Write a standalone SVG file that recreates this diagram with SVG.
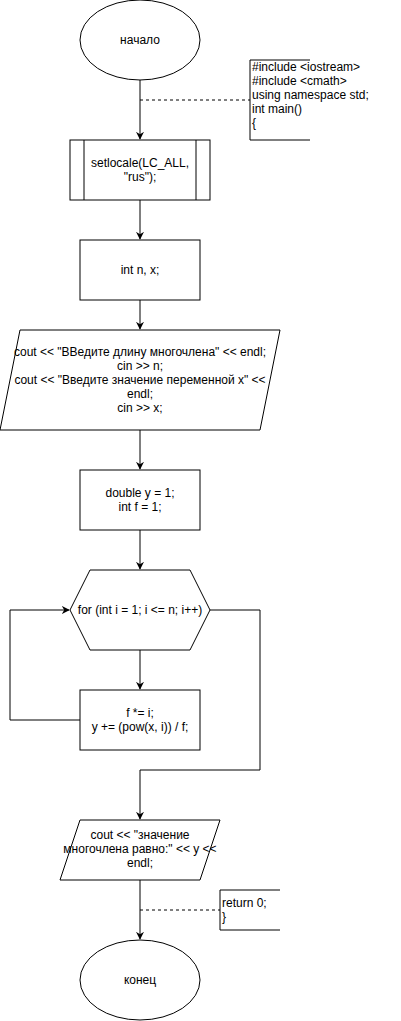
<svg xmlns="http://www.w3.org/2000/svg" width="401" height="1021" viewBox="0 0 401 1021">
<defs>
<style>
.s{fill:#fff;stroke:#000;stroke-width:1}
.e{fill:none;stroke:#000;stroke-width:1}
.d{fill:none;stroke:#000;stroke-width:1;stroke-dasharray:3 3}
text{font-family:"Liberation Sans",Arial,sans-serif;font-size:12px;fill:#000}
.c{text-anchor:middle}
</style>
<marker id="a" viewBox="0 0 10 10" refX="9" refY="5" markerWidth="8" markerHeight="8" markerUnits="userSpaceOnUse" orient="auto">
<path d="M0,0 L10,5 L0,10 L3,5 Z" fill="#000"/>
</marker>
</defs>
<g id="connectors">
<path class="e" d="M140,80 V139" marker-end="url(#a)"/>
<path class="e" d="M140,200 V239" marker-end="url(#a)"/>
<path class="e" d="M140,300 V329" marker-end="url(#a)"/>
<path class="e" d="M140,430 V469" marker-end="url(#a)"/>
<path class="e" d="M140,530 V569" marker-end="url(#a)"/>
<path class="e" d="M140,650 V689" marker-end="url(#a)"/>
<path class="e" d="M80,720 H10 V610 H69" marker-end="url(#a)"/>
<path class="e" d="M210,610 H260 V770 H140 V819" marker-end="url(#a)"/>
<path class="e" d="M140,880 V939" marker-end="url(#a)"/>
<path class="d" d="M140,100 H250"/>
<path class="d" d="M140,910 H220"/>
</g>
<g id="start">
<ellipse class="s" cx="140" cy="40" rx="60" ry="40"/>
<text class="c" x="140" y="44">начало</text>
</g>
<g id="note1">
<path class="e" d="M310,60 H250 V140 H310"/>
<text x="252" y="71">#include &lt;iostream&gt;</text>
<text x="252" y="85">#include &lt;cmath&gt;</text>
<text x="252" y="99">using namespace std;</text>
<text x="252" y="113">int main()</text>
<text x="252" y="127">{</text>
</g>
<g id="setlocale">
<rect class="s" x="70" y="140" width="140" height="60"/>
<path class="e" d="M84,140 V200 M196,140 V200"/>
<text class="c" x="140" y="167">setlocale(LC_ALL,</text>
<text class="c" x="140" y="181">"rus");</text>
</g>
<g id="decl">
<rect class="s" x="80" y="240" width="120" height="60"/>
<text class="c" x="140" y="274">int n, x;</text>
</g>
<g id="input">
<path class="s" d="M20,330 H280 L260,430 H0 Z"/>
<text class="c" x="140" y="356">cout &lt;&lt; "ВВедите длину многочлена" &lt;&lt; endl;</text>
<text class="c" x="140" y="370">cin &gt;&gt; n;</text>
<text class="c" x="140" y="384">cout &lt;&lt; "Введите значение переменной x" &lt;&lt;</text>
<text class="c" x="140" y="398">endl;</text>
<text class="c" x="140" y="412">cin &gt;&gt; x;</text>
</g>
<g id="init">
<rect class="s" x="80" y="470" width="120" height="60"/>
<text class="c" x="140" y="497">double y = 1;</text>
<text class="c" x="140" y="511">int f = 1;</text>
</g>
<g id="loop">
<path class="s" d="M70,610 L90,570 H190 L210,610 L190,650 H90 Z"/>
<text class="c" x="140" y="614">for (int i = 1; i &lt;= n; i++)</text>
</g>
<g id="body">
<rect class="s" x="80" y="690" width="120" height="60"/>
<text class="c" x="140" y="717">f *= i;</text>
<text class="c" x="140" y="731">y += (pow(x, i)) / f;</text>
</g>
<g id="output">
<path class="s" d="M80,820 H220 L200,880 H60 Z"/>
<text class="c" x="140" y="839">cout &lt;&lt; "значение</text>
<text class="c" x="140" y="853">многочлена равно:" &lt;&lt; y &lt;&lt;</text>
<text class="c" x="140" y="867">endl;</text>
</g>
<g id="note2">
<path class="e" d="M280,890 H220 V930 H280"/>
<text x="222" y="907">return 0;</text>
<text x="222" y="921">}</text>
</g>
<g id="end">
<ellipse class="s" cx="140" cy="980" rx="60" ry="40"/>
<text class="c" x="140" y="984">конец</text>
</g>
</svg>
